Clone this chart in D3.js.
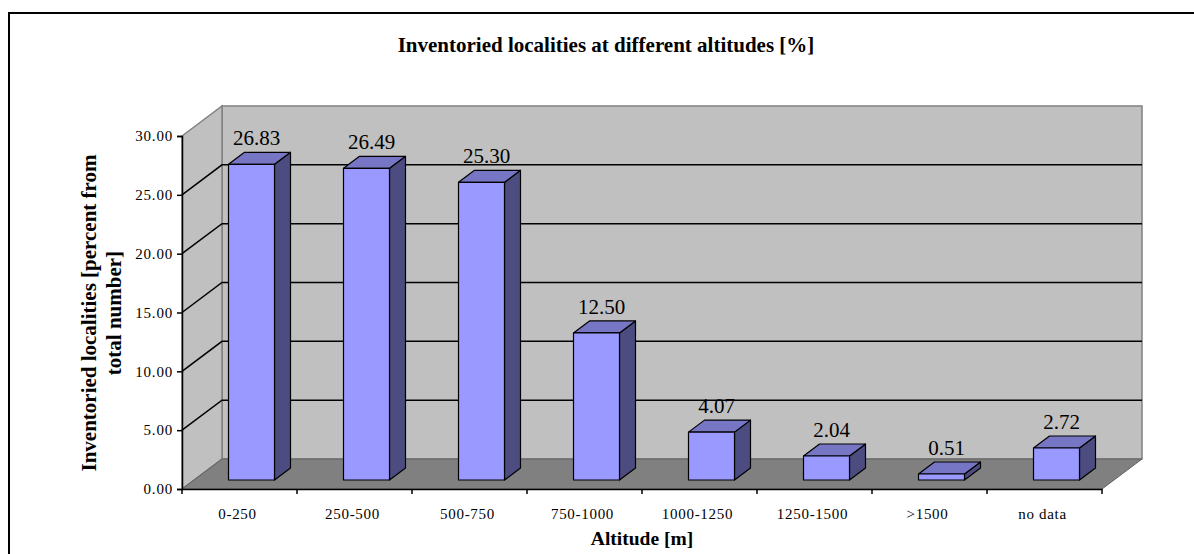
<!DOCTYPE html>
<html>
<head>
<meta charset="utf-8">
<script src="https://cdn.jsdelivr.net/npm/d3@7"></script>
<style>
  html, body { margin: 0; padding: 0; background: #fff; }
  svg { display: block; }
  text { font-family: "Liberation Serif", "Times New Roman", serif; fill: #000; }
</style>
</head>
<body>
<svg id="chart" width="1194" height="554"></svg>
<script>
// Altitude classes and share of inventoried localities (%)
const categories = ["0-250", "250-500", "500-750", "750-1000", "1000-1250", "1250-1500", ">1500", "no data"];
const values = [26.83, 26.49, 25.30, 12.50, 4.07, 2.04, 0.51, 2.72];
const yTicks = [0, 5, 10, 15, 20, 25, 30];
const chartTitle = "Inventoried localities at different altitudes [%]";
const xTitle = "Altitude [m]";
const yTitleLines = ["Inventoried localities [percent from", "total number]"];

const svg = d3.select("#chart");

// front plane of the 3-D box and the depth offset of its back plane
const plot = { left: 182, right: 1102, bottom: 489, top: 136 };
const DX = 40, DY = -30;
const dFront = 0.3, dBack = 0.7;   // bar depth inside the box

const x = d3.scaleBand().domain(categories).range([plot.left, plot.right]);
const y = d3.scaleLinear().domain([0, 30]).range([plot.bottom, plot.top]);

// project a front-plane point back by fraction d of the depth
const P = (px, py, d) => [px + d * DX, py + d * DY];
const pts = arr => arr.map(p => p.join(",")).join(" ");

// outer frame
svg.append("rect").attr("x", 9).attr("y", 13).attr("width", 1200).attr("height", 560)
  .attr("fill", "none").attr("stroke", "#000").attr("stroke-width", 2);

const vmin = y.domain()[0], vmax = y.domain()[1];

// back wall
svg.append("polygon")
  .attr("points", pts([P(plot.left, y(vmax), 1), P(plot.right, y(vmax), 1), P(plot.right, y(vmin), 1), P(plot.left, y(vmin), 1)]))
  .attr("fill", "#c0c0c0").attr("stroke", "#808080").attr("stroke-width", 1.5);

// side wall
svg.append("polygon")
  .attr("points", pts([[plot.left, y(vmax)], P(plot.left, y(vmax), 1), P(plot.left, y(vmin), 1), [plot.left, y(vmin)]]))
  .attr("fill", "#c0c0c0").attr("stroke", "#808080").attr("stroke-width", 1.5);

// floor
svg.append("polygon")
  .attr("points", pts([[plot.left, y(vmin)], [plot.right, y(vmin)], P(plot.right, y(vmin), 1), P(plot.left, y(vmin), 1)]))
  .attr("fill", "#808080").attr("stroke", "#606060").attr("stroke-width", 1);

// gridlines on side and back walls
const inner = yTicks.filter(t => t > vmin && t < vmax);
const grid = svg.append("g").attr("stroke", "#000").attr("stroke-width", 1.5).attr("fill", "none");
inner.forEach(t => {
  const a = [plot.left, y(t)], b = P(plot.left, y(t), 1), c = P(plot.right, y(t), 1);
  grid.append("polyline").attr("points", pts([a, b, c]));
});

// bars (drawn as front, top and side faces)
const bw = x.bandwidth() * 0.4;
const bars = svg.append("g").attr("stroke", "#000").attr("stroke-width", 1.2).attr("stroke-linejoin", "round");
categories.forEach((c, i) => {
  const v = values[i];
  const xl = x(c) + x.bandwidth() * 0.3, xr = xl + bw;
  const fTL = P(xl, y(v), dFront), fTR = P(xr, y(v), dFront);
  const fBR = P(xr, y(0), dFront), fBL = P(xl, y(0), dFront);
  const bTL = P(xl, y(v), dBack), bTR = P(xr, y(v), dBack), bBR = P(xr, y(0), dBack);
  bars.append("polygon").attr("points", pts([fTR, bTR, bBR, fBR])).attr("fill", "#4c4c80");
  bars.append("polygon").attr("points", pts([fTL, bTL, bTR, fTR])).attr("fill", "#7676c4");
  bars.append("polygon").attr("points", pts([fTL, fTR, fBR, fBL])).attr("fill", "#9999ff");

  // value label over the top face
  svg.append("text")
    .attr("x", (fTL[0] + fTR[0]) / 2 + 5)
    .attr("y", bTL[1] - 7)
    .attr("text-anchor", "middle")
    .attr("font-size", 21)
    .text(v.toFixed(2));
});

// y axis on the front-left edge
const yAxis = svg.append("g")
  .attr("transform", `translate(${plot.left},0)`)
  .call(d3.axisLeft(y).tickValues(yTicks).tickFormat(d3.format(".2f")).tickSize(5).tickPadding(4));
yAxis.select(".domain").attr("stroke", "#000").attr("stroke-width", 1.5);
yAxis.selectAll(".tick line").attr("stroke", "#000").attr("stroke-width", 1.5);
yAxis.selectAll(".tick text").attr("font-size", 15).attr("letter-spacing", 0.8)
  .attr("font-family", "Liberation Serif").attr("fill", "#000");

// x axis on the front-bottom edge; ticks sit on band boundaries
const xAxis = svg.append("g")
  .attr("transform", `translate(0,${plot.bottom})`)
  .call(d3.axisBottom(x).tickSize(0).tickPadding(19));
xAxis.select(".domain").attr("stroke", "#000").attr("stroke-width", 1.5);
xAxis.selectAll(".tick text").attr("font-size", 15).attr("letter-spacing", 0.7)
  .attr("font-family", "Liberation Serif").attr("fill", "#000")
  .attr("dx", -2);
const edges = categories.map(c => x(c)).concat([plot.right]);
xAxis.selectAll(".edge").data(edges).join("line")
  .attr("x1", d => d).attr("x2", d => d).attr("y1", 0).attr("y2", 5)
  .attr("stroke", "#000").attr("stroke-width", 1.5);

// titles
svg.append("text").attr("x", 606).attr("y", 52).attr("text-anchor", "middle")
  .attr("font-size", 21).attr("font-weight", "bold").text(chartTitle);

svg.append("text").attr("x", (plot.left + plot.right) / 2).attr("y", 545).attr("text-anchor", "middle")
  .attr("font-size", 19.5).attr("font-weight", "bold").text(xTitle);

const yt = svg.append("text").attr("transform", "translate(96,313) rotate(-90)")
  .attr("text-anchor", "middle").attr("font-size", 21).attr("font-weight", "bold");
yTitleLines.forEach((line, k) => {
  yt.append("tspan").attr("x", 0).attr("y", k * 25).text(line);
});
</script>
</body>
</html>
